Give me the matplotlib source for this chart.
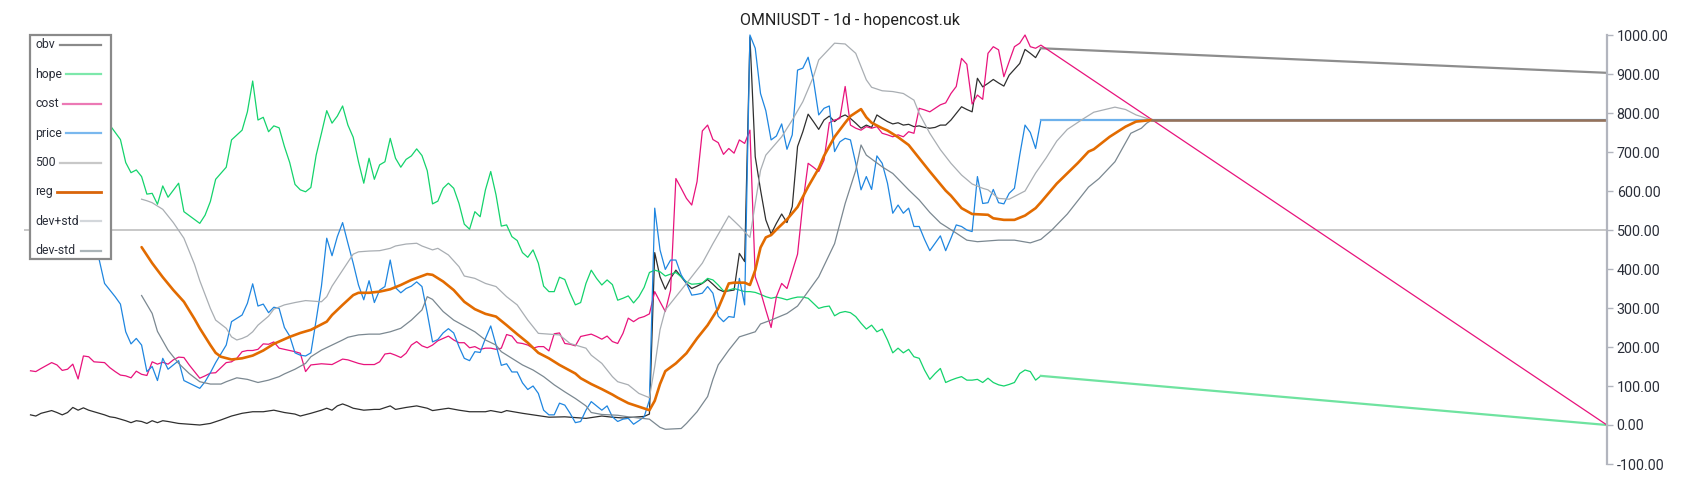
import matplotlib
matplotlib.use('Agg')
import matplotlib.pyplot as plt
from matplotlib.lines import Line2D
from matplotlib.patches import Rectangle
from matplotlib.ticker import FormatStrFormatter
import numpy as np

plt.rcParams['font.family'] = ['Roboto', 'DejaVu Sans']

# ---- data (day index, value) ----
obv_x = [0, 1, 2, 4, 5, 6, 7, 8, 9, 10, 11, 12, 14, 15, 16, 17, 18, 19, 20, 21, 22, 23, 24, 25, 26, 28, 29, 32, 34,
         36, 38, 40, 42, 44, 46, 48, 50, 51, 53, 55, 56, 57, 58, 59, 60, 61, 63, 65, 66, 68, 69, 71, 73, 75, 76, 79,
         81, 83, 86, 87, 89, 90, 93, 95, 98, 101, 105, 108, 110, 112, 114, 116, 117, 118, 119, 120, 121, 122, 123,
         124, 125, 126, 127, 128, 129, 130, 131, 132, 133, 134, 135, 136, 137, 138, 139, 140, 141, 142, 143, 144,
         145, 146, 147, 148, 149, 150, 151, 152, 153, 154, 155, 156, 157, 158, 159, 160, 161, 162, 163, 164, 165,
         166, 167, 168, 169, 170, 171, 172, 173, 174, 175, 176, 177, 178, 179, 180, 181, 182, 183, 184, 185, 186,
         187, 188, 189, 190, 191]
obv_y = [26, 23, 30, 37, 32, 26, 32, 45, 38, 44, 38, 34, 26, 21, 19, 15, 11, 6, 11, 9, 4, 11, 6, 11, 9, 4, 3, 0, 4,
         13, 23, 30, 34, 34, 38, 32, 28, 23, 30, 38, 43, 38, 49, 54, 49, 43, 38, 40, 40, 49, 40, 45, 49, 43, 37, 43,
         38, 34, 34, 37, 32, 37, 30, 26, 20, 21, 17, 23, 20, 18, 20, 22, 28, 442, 380, 348, 376, 397, 380,
         363, 350, 356, 363, 373, 361, 348, 342, 344, 346, 440, 419, 995, 688, 603, 526, 490, 517, 541, 519, 560,
         714, 752, 797, 778, 758, 782, 792, 778, 789, 795, 786, 774, 761, 769, 763, 795, 786, 778, 772, 775, 769,
         771, 765, 767, 763, 761, 763, 769, 769, 782, 799, 816, 809, 803, 889, 867, 876, 886, 877, 869, 897, 912,
         927, 963, 953, 942, 966]
obv_proj_x = [191, 298]
obv_proj_y = [966, 903]

hope_x = [0, 2, 4, 6, 8, 9, 10, 11, 12, 13, 14, 15, 17, 18, 19, 20, 21, 22, 23, 24, 25, 26, 28, 29, 32, 33, 34, 35,
          37, 38, 40, 41, 42, 43, 44, 45, 46, 47, 48, 49, 50, 51, 52, 53, 54, 55, 56, 57, 58, 59, 60, 61, 62, 63,
          64, 65, 66, 67, 68, 69, 70, 71, 72, 73, 74, 75, 76, 77, 78, 79, 80, 81, 82, 83, 84, 85, 86, 87, 88, 89,
          90, 91, 92, 93, 94, 95, 96, 97, 98, 99, 100, 101, 102, 103, 104, 105, 106, 107, 108, 109, 110, 111, 112,
          113, 114, 115, 116, 117, 118, 119, 120, 121, 122, 123, 124, 125, 126, 127, 128, 129, 130, 131, 132, 133,
          134, 135, 136, 137, 138, 139, 140, 141, 142, 143, 144, 145, 146, 147, 148, 149, 150, 151, 152, 153, 154,
          155, 156, 157, 158, 159, 160, 161, 162, 163, 164, 165, 166, 167, 168, 169, 170, 171, 172, 173, 174, 175,
          176, 177, 178, 179, 180, 181, 182, 183, 184, 185, 186, 187, 188, 189, 190, 191]
hope_y = [880, 905, 930, 960, 995, 1000, 990, 930, 870, 830, 800, 769, 732, 673, 647, 654, 637, 592, 594, 566, 613,
          584, 620, 547, 517, 538, 573, 630, 661, 731, 756, 803, 882, 782, 789, 752, 767, 762, 714, 673, 617, 603,
          598, 609, 692, 748, 806, 774, 792, 818, 769, 738, 675, 620, 684, 630, 667, 675, 735, 684, 661, 681, 690,
          708, 691, 652, 567, 574, 607, 620, 607, 568, 515, 502, 547, 534, 603, 650, 590, 510, 513, 483, 473, 442,
          430, 449, 415, 356, 342, 342, 379, 373, 338, 308, 314, 363, 397, 376, 359, 372, 360, 320, 325, 331, 313,
          329, 353, 391, 397, 393, 382, 387, 391, 380, 367, 361, 362, 364, 376, 372, 359, 344, 346, 350, 346, 342,
          342, 340, 335, 329, 325, 328, 325, 321, 325, 328, 328, 325, 312, 299, 303, 305, 280, 288, 291, 288, 278,
          261, 246, 256, 239, 246, 218, 185, 197, 185, 194, 175, 171, 141, 117, 132, 145, 109, 115, 120, 124, 115,
          115, 117, 109, 120, 109, 103, 100, 104, 109, 132, 141, 137, 115, 126]
hope_proj_x = [191, 298]
hope_proj_y = [126, 0]

cost_x = [0, 1, 2, 4, 5, 6, 7, 8, 9, 10, 11, 12, 14, 15, 16, 17, 18, 19, 20, 21, 22, 23, 24, 25, 26, 27, 28, 29, 30,
          32, 33, 34, 35, 36, 37, 38, 39, 40, 41, 42, 43, 44, 45, 46, 47, 48, 49, 50, 51, 52, 53, 55, 57, 58, 59, 60,
          62, 63, 65, 66, 67, 68, 69, 70, 71, 72, 73, 74, 75, 76, 77, 78, 79, 80, 81, 82, 83, 84, 85, 86, 87, 88, 89,
          90, 91, 92, 93, 94, 95, 96, 97, 98, 99, 100, 101, 102, 103, 104, 106, 107, 108, 109, 110, 111, 112, 113,
          114, 115, 116, 117, 118, 119, 120, 121, 122, 123, 124, 125, 126, 127, 128, 129, 130, 131, 132, 133, 134,
          135, 136, 137, 138, 139, 140, 141, 142, 143, 145, 146, 147, 148, 149, 150, 151, 152, 153, 154, 155, 156,
          157, 158, 159, 160, 161, 162, 163, 164, 165, 166, 167, 168, 169, 170, 171, 172, 173, 174, 175, 176, 177,
          178, 179, 180, 181, 182, 183, 184, 185, 186, 187, 188, 189, 190, 191, 298]
cost_y = [139, 137, 145, 160, 154, 140, 143, 156, 118, 177, 175, 162, 160, 147, 137, 128, 126, 121, 138, 130, 127,
          162, 156, 161, 156, 167, 174, 173, 154, 120, 126, 133, 134, 147, 160, 162, 171, 188, 191, 191, 194, 208,
          207, 213, 197, 194, 191, 188, 184, 137, 154, 157, 155, 162, 169, 167, 158, 155, 155, 162, 182, 184, 179,
          173, 184, 205, 214, 203, 198, 205, 216, 222, 228, 218, 211, 211, 198, 201, 194, 197, 197, 194, 197, 232,
          228, 211, 209, 205, 197, 201, 201, 190, 234, 236, 209, 207, 203, 227, 233, 227, 220, 228, 214, 209, 235,
          274, 265, 274, 278, 285, 342, 316, 291, 346, 632, 607, 581, 564, 624, 754, 769, 732, 724, 694, 709, 697,
          731, 722, 756, 380, 342, 295, 250, 329, 363, 350, 438, 568, 671, 661, 650, 679, 775, 782, 786, 868, 769,
          761, 756, 765, 761, 765, 748, 744, 739, 744, 739, 752, 748, 812, 808, 803, 812, 821, 826, 850, 868, 940,
          925, 823, 846, 835, 953, 970, 962, 893, 932, 970, 979, 1000, 970, 966, 974, 0]

price_x = [0, 2, 4, 6, 8, 10, 12, 13, 14, 15, 16, 17, 18, 19, 20, 21, 22, 23, 24, 25, 26, 28, 29, 32, 33, 34, 35, 37,
           38, 40, 41, 42, 43, 44, 45, 46, 47, 48, 49, 50, 51, 52, 53, 54, 55, 56, 57, 58, 59, 60, 61, 62, 63, 64, 65,
           66, 67, 68, 69, 70, 71, 72, 73, 74, 75, 76, 77, 78, 79, 80, 81, 82, 83, 84, 85, 86, 87, 88, 89, 90, 91, 92,
           93, 94, 95, 96, 97, 98, 99, 100, 101, 102, 103, 104, 105, 106, 107, 108, 109, 110, 111, 112, 113, 114, 115,
           116, 117, 118, 119, 120, 121, 122, 123, 124, 125, 126, 127, 128, 129, 130, 131, 132, 133, 134, 135, 136,
           137, 138, 139, 140, 141, 142, 143, 144, 145, 146, 147, 148, 149, 150, 151, 152, 153, 154, 155, 156, 157,
           158, 159, 160, 161, 162, 163, 164, 165, 166, 167, 168, 169, 170, 171, 172, 173, 174, 175, 176, 177, 178,
           179, 180, 181, 182, 183, 184, 185, 186, 187, 188, 189, 190, 191]
price_y = [760, 740, 700, 690, 640, 560, 470, 423, 363, 346, 329, 310, 239, 208, 222, 205, 137, 150, 114, 171, 143, 165,
           114, 94, 111, 134, 160, 205, 265, 282, 312, 362, 305, 310, 288, 302, 299, 250, 228, 185, 179, 177, 185, 269,
           356, 479, 434, 483, 519, 466, 415, 359, 321, 370, 314, 346, 355, 423, 352, 339, 350, 356, 367, 355, 287,
           213, 219, 236, 247, 236, 201, 171, 165, 188, 186, 222, 254, 205, 153, 157, 136, 136, 108, 91, 100, 81, 38,
           26, 26, 56, 51, 30, 6, 9, 38, 60, 49, 38, 49, 21, 9, 15, 17, 2, 11, 21, 64, 556, 449, 399, 423, 423, 385,
           363, 333, 335, 338, 355, 338, 279, 265, 278, 276, 376, 308, 1000, 966, 850, 806, 731, 741, 772, 707, 744,
           910, 915, 943, 885, 795, 812, 818, 701, 726, 735, 731, 671, 603, 637, 604, 690, 671, 620, 543, 564, 543,
           556, 509, 509, 476, 447, 466, 485, 447, 479, 513, 509, 500, 496, 637, 568, 570, 604, 570, 567, 594, 607,
           692, 769, 750, 709, 782]
price_proj_x = [191, 298]
price_proj_y = [782, 782]

level_500 = 500

reg_x = [21, 23, 25, 27, 29, 31, 32, 34, 35, 36, 38, 40, 42, 44, 46, 48, 49, 51, 53, 56, 57, 59, 61, 62, 64, 66, 68,
         70, 72, 74, 75, 76, 78, 80, 82, 84, 86, 88, 90, 92, 94, 96, 98, 100, 103, 104, 106, 108, 110, 111, 113, 115,
         117, 118, 119, 120, 122, 124, 126, 128, 130, 132, 133, 135, 136, 137, 138, 139, 140, 141, 143, 145, 147, 149,
         150, 152, 154, 155, 157, 158, 159, 161, 162, 164, 166, 168, 170, 173, 174, 176, 178, 181, 182, 184, 186, 188,
         190, 191, 194, 198, 200, 201, 204, 207, 209, 212]
reg_y = [456, 415, 379, 346, 316, 272, 248, 205, 185, 175, 168, 171, 178, 191, 208, 220, 226, 236, 244, 265, 282, 308,
         333, 339, 339, 342, 348, 359, 372, 382, 387, 385, 368, 346, 316, 297, 285, 278, 256, 233, 211, 185, 171, 154,
         132, 120, 105, 92, 78, 70, 56, 47, 38, 62, 105, 138, 158, 184, 222, 256, 299, 363, 365, 365, 359, 397, 455,
         481, 487, 501, 527, 559, 611, 658, 690, 739, 775, 792, 810, 789, 775, 761, 755, 738, 718, 684, 650, 601, 588,
         556, 541, 539, 530, 526, 526, 537, 556, 571, 619, 672, 701, 707, 739, 765, 778, 782]
reg_proj_x = [212, 298]
reg_proj_y = [782, 782]

devp_x = [21, 22, 23, 25, 27, 29, 31, 32, 34, 35, 37, 38, 39, 40, 41, 42, 43, 45, 46, 48, 50, 52, 55, 56, 57, 59, 61,
          62, 64, 66, 68, 69, 71, 73, 74, 76, 77, 79, 81, 82, 84, 86, 88, 90, 92, 94, 96, 98, 100, 102, 105, 106, 108,
          110, 111, 113, 115, 117, 118, 119, 120, 122, 124, 127, 129, 132, 134, 136, 137, 138, 139, 142, 144, 146,
          148, 149, 152, 154, 156, 157, 158, 159, 161, 163, 165, 167, 168, 170, 172, 174, 176, 178, 180, 181, 183,
          185, 188, 190, 192, 194, 196, 199, 201, 205, 207, 209, 212]
devp_y = [579, 575, 570, 553, 519, 479, 412, 370, 299, 269, 248, 226, 218, 222, 228, 239, 256, 279, 297, 308, 314,
          319, 316, 329, 356, 397, 438, 444, 446, 447, 453, 459, 464, 466, 459, 449, 453, 436, 406, 382, 376, 363,
          355, 329, 308, 269, 235, 233, 231, 209, 197, 179, 158, 124, 111, 103, 81, 70, 150, 244, 295, 329, 363, 415,
          465, 536, 510, 481, 568, 653, 692, 739, 782, 829, 893, 936, 979, 977, 953, 919, 885, 866, 857, 855, 850,
          833, 799, 748, 706, 671, 641, 618, 607, 603, 581, 579, 600, 646, 685, 728, 758, 785, 802, 815, 809, 795,
          782]

devm_x = [21, 23, 24, 26, 28, 30, 32, 34, 36, 37, 39, 41, 43, 45, 47, 48, 50, 52, 53, 55, 57, 59, 60, 62, 64, 66, 68,
          70, 72, 74, 75, 76, 78, 80, 82, 84, 86, 88, 89, 91, 93, 95, 97, 99, 101, 103, 105, 106, 108, 111, 113, 117,
          119, 120, 123, 124, 126, 128, 129, 130, 132, 134, 137, 138, 140, 143, 145, 149, 152, 154, 156, 157, 158, 161,
          163, 166, 168, 170, 172, 175, 177, 179, 181, 183, 186, 189, 191, 193, 196, 200, 202, 205, 208, 210, 211, 212]
devm_y = [332, 286, 240, 192, 158, 132, 111, 105, 105, 111, 121, 117, 109, 115, 124, 131, 143, 158, 175, 192, 205,
          218, 225, 231, 233, 233, 239, 248, 269, 295, 329, 322, 291, 269, 254, 239, 218, 205, 188, 171, 154, 141,
          124, 103, 85, 68, 49, 32, 27, 25, 21, 15, -6, -11, -9, 4, 34, 73, 117, 154, 192, 226, 239, 259, 269, 286,
          305, 380, 465, 568, 653, 718, 692, 662, 645, 603, 577, 545, 518, 492, 474, 470, 472, 474, 474, 467, 476,
          499, 541, 610, 632, 675, 748, 761, 774, 782]

legend_labels = ['obv', 'hope', 'cost', 'price', '500', 'reg', 'dev+std', 'dev-std']

# ---- figure ----
W, H = 1700, 500
fig = plt.figure(figsize=(17, 5), dpi=100)
fig.patch.set_facecolor('white')


def fx(px):
    return px / W


def fy(py):
    return 1 - py / H


ax = fig.add_axes([fx(24), fy(464), fx(1607) - fx(24), (464 - 35) / H])
ax.set_facecolor('white')
ax.set_xlim(-(30.5 - 24) / 5.29, (1607 - 30.5) / 5.29)
ax.set_ylim(-100, 1000)

thin = 0.9
ax.axhline(level_500, color='#c4c4c4', lw=1.3, zorder=1)
ax.plot(obv_x, obv_y, color='#2f2f2f', lw=thin, clip_on=False)
ax.plot(obv_proj_x, obv_proj_y, color='#8d8d8d', lw=1.6)
ax.plot(hope_x, hope_y, color='#14d36c', lw=thin, clip_on=False)
ax.plot(hope_proj_x, hope_proj_y, color='#6fe3a0', lw=1.6, clip_on=False)
ax.plot(cost_x, cost_y, color='#e8137c', lw=thin, clip_on=False)
ax.plot(price_x, price_y, color='#1f86e0', lw=thin, clip_on=False)
ax.plot(price_proj_x, price_proj_y, color='#6db1ec', lw=1.6)
ax.plot(devp_x, devp_y, color='#a9aeb3', lw=thin)
ax.plot(devm_x, devm_y, color='#7b8891', lw=thin)
ax.plot(reg_x, reg_y, color='#e26b00', lw=1.9, solid_capstyle='round')
ax.plot(reg_proj_x, reg_proj_y, color='#95725b', lw=1.9)

# right price scale
ax.yaxis.tick_right()
ax.set_yticks(np.arange(-100, 1001, 100))
ax.yaxis.set_major_formatter(FormatStrFormatter('%.2f'))
ax.tick_params(axis='y', colors='#b2b5be', labelcolor='#2a2e39', length=4, width=1, labelsize=10.3, pad=3)
ax.set_xticks([])
for s in ['left', 'top', 'bottom']:
    ax.spines[s].set_visible(False)
ax.spines['right'].set_color('#b2b5be')
ax.spines['right'].set_linewidth(1.6)

fig.text(0.5, fy(20.5), 'OMNIUSDT - 1d - hopencost.uk', ha='center', va='center',
         fontsize=11.5, color='#222222')

# legend box drawn by hand (label on the left, sample on the right)
fig.add_artist(Rectangle((fx(30), fy(259)), fx(111) - fx(30), (259 - 35) / H, transform=fig.transFigure,
                         facecolor='white', edgecolor='#8a8a8a', linewidth=1.6, zorder=5))
sample_colors = ['#8a8a8a', '#7de8ab', '#ec79b5', '#7ab8ee', '#c8c8c8', '#d9650a', '#d3d7db', '#aab4b8']
sample_start = [60, 66, 63, 66, 60, 57, 81, 81]
sample_lw = [1.6, 1.6, 1.6, 1.6, 1.6, 2.0, 1.6, 1.6]
for i, lab in enumerate(legend_labels):
    yy = 45 + i * 29.4
    fig.text(fx(35), fy(yy), lab, ha='left', va='center', fontsize=8.8, color='#2a2e39', zorder=6)
    fig.add_artist(Line2D([fx(sample_start[i]), fx(101)], [fy(yy), fy(yy)], transform=fig.transFigure,
                          color=sample_colors[i], lw=sample_lw[i], zorder=6))

fig.savefig('out.png', dpi=100)
